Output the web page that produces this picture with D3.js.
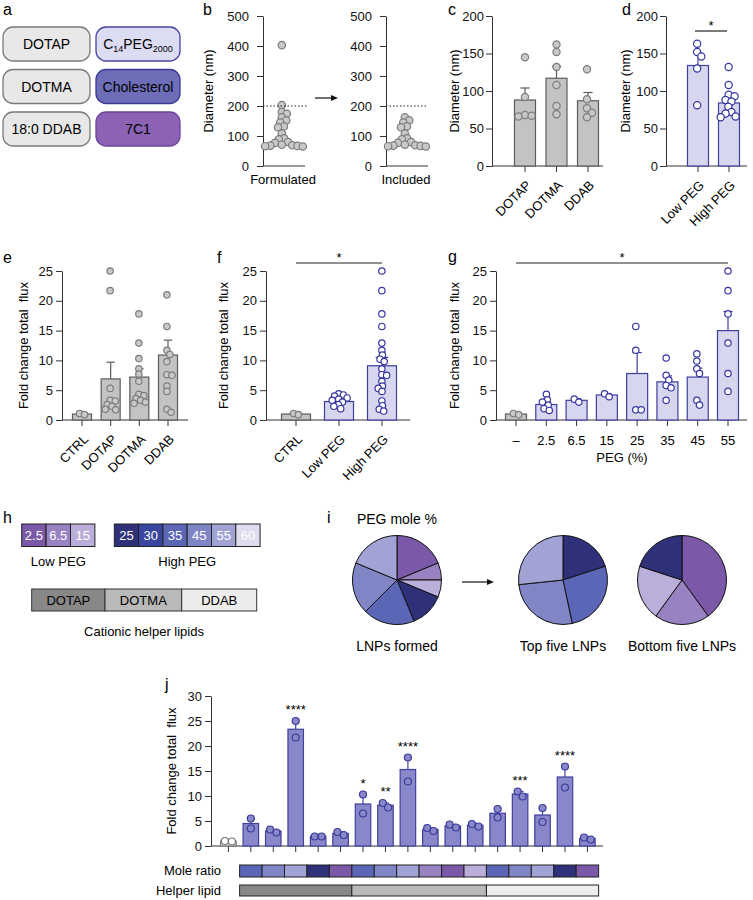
<!DOCTYPE html>
<html>
<head>
<meta charset="utf-8">
<script src="https://cdn.jsdelivr.net/npm/d3@7"></script>
<style>
body { margin: 0; background: #fff; }
svg { font-family: "Liberation Sans", Arial, Helvetica, sans-serif; }
</style>
</head>
<body>
<svg id="fig" width="753" height="900"></svg>
<script>
// ---------- data ----------
// a
var helperNames = ["DOTAP", "DOTMA", "18:0 DDAB"];
var otherNames = ["C14PEG2000", "Cholesterol", "7C1"];

// c (diameter, nm)
var cCats = ["DOTAP", "DOTMA", "DDAB"];
var cMeans = [88, 117, 87];
var cErrTop = [104, 133, 98];
var cPoints = [[145, 92, 66, 67, 68], [162, 152, 132, 108, 80, 69], [129, 89, 77, 71, 65]];
// b
var bExcluded = [403, 203, 180, 174];
var bIncluded = [].concat(cPoints[0], cPoints[1], cPoints[2]);
var bFormulated = bExcluded.concat(bIncluded);

// d
var dCats = ["Low PEG", "High PEG"];
var dMeans = [134, 84];
var dErrTop = [150, 90];
var dPoints = [[163, 152, 146, 130, 81], [132, 108, 95, 93, 88, 86, 79, 72, 70, 66, 65]];

// e (fold change total flux)
var eCats = ["CTRL", "DOTAP", "DOTMA", "DDAB"];
var eMeans = [1.0, 6.9, 7.2, 10.9];
var eErrTop = [1.1, 9.7, 8.6, 13.4];
var ePoints = [[0.9, 1.1], [25, 21.7, 5.3, 3.3, 3.2, 2.6, 2.3, 1.8, 1.7],
  [17.8, 12.9, 10.3, 8.6, 7.7, 6.5, 4.3, 4.1, 3.6, 3.3, 3.0, 2.8],
  [21, 15.7, 11.7, 11.0, 9.8, 7.6, 7.5, 5.7, 4.8, 1.8, 1.3]];

// f
var fCats = ["CTRL", "Low PEG", "High PEG"];
var fMeans = [1.0, 3.1, 9.1];
var fErrTop = [1.1, 3.4, 10.5];
var fPoints = [[0.9, 1.1], [4.4, 4.2, 4.0, 3.7, 3.5, 3.3, 3.0, 2.6, 2.3, 1.9],
  [25, 21.7, 17.8, 15.7, 12.9, 11.7, 10.9, 10.2, 9.8, 8.6, 7.6, 7.5, 6.5, 5.7, 5.3, 4.8, 3.2, 2.4, 1.8, 1.5]];

// g
var gCats = ["–", "2.5", "6.5", "15", "25", "35", "45", "55"];
var gMeans = [1.0, 2.6, 3.3, 4.2, 7.8, 6.4, 7.2, 15.0];
var gErrTop = [1.1, 3.1, 3.6, 4.45, 11.3, 7.4, 8.7, 18.2];
var gPoints = [[0.9, 1.1], [4.3, 3.4, 3.0, 2.5, 1.9, 1.6], [3.0, 3.5], [3.9, 4.4], [15.7, 11.7, 1.7, 1.7],
  [10.4, 7.5, 6.7, 5.8, 5.4, 3.3], [11.1, 9.9, 8.6, 7.8, 3.3, 2.5], [25, 21.7, 17.8, 12.9, 7.8, 4.8]];

// h / i
var lowPeg = [2.5, 6.5, 15];
var highPeg = [25, 30, 35, 45, 55, 60];
var pegColors = { 2.5: "#7b59a8", 6.5: "#9882c2", 15: "#bcaedb", 25: "#2e3079", 30: "#3b46a0",
  35: "#5b66b6", 45: "#7f85c5", 55: "#a1a3d4", 60: "#dddded" };
var helperCats = ["DOTAP", "DOTMA", "DDAB"];
var helperColors = ["#888888", "#b9b9b9", "#ececec"];
var topFivePeg = [25, 35, 45, 55];
var topFiveCounts = [3, 4, 4, 4];
var bottomFivePeg = [2.5, 6.5, 15, 25];
var bottomFiveCounts = [2, 1, 1, 1];

// j
var jPoints = [[0.9, 1.0], [5.5, 3.5], [3.3, 2.7], [25, 21.7], [1.9, 1.9], [2.2, 2.8], [10.3, 6.5], [7.7, 8.6],
  [17.7, 12.9], [3.0, 3.6], [3.7, 4.3], [3.9, 4.4], [7.4, 5.7], [10.9, 9.9], [7.6, 4.8], [15.9, 11.7], [1.3, 1.7]];
var jStars = { 3: "****", 6: "*", 7: "**", 8: "****", 13: "***", 15: "****" };
var moleRatio = [35, 45, 55, 25, 2.5, 35, 45, 55, 6.5, 2.5, 15, 35, 45, 55, 25, 2.5];
var helperOfCell = ["DOTAP", "DOTAP", "DOTAP", "DOTAP", "DOTAP", "DOTMA", "DOTMA", "DOTMA", "DOTMA", "DOTMA", "DOTMA",
  "DDAB", "DDAB", "DDAB", "DDAB", "DDAB"];

// ---------- drawing ----------
var FS = 13;
var svg = d3.select("#fig");
svg.append("rect").attr("width", 753).attr("height", 900).attr("fill", "#fff");

var grayStyle = { bar: "#c3c3c3", barStroke: "#5c5c5c", pt: "#c9c9c9", ptStroke: "#7c7c7c" };
var lightBlue = { bar: "#d6d6ef", barStroke: "#3e3e9e", pt: "#ffffff", ptStroke: "#3535a0" };
var midBlue = { bar: "#8787ca", barStroke: "#40409e", pt: "#8787ca", ptStroke: "#3a3a98" };
var ctrlJ = { bar: "#e6e6e6", barStroke: "#777", pt: "#ffffff", ptStroke: "#777" };

function letter(t, x, y) {
  svg.append("text").attr("x", x).attr("y", y).attr("font-size", 16).text(t);
}

function styleAxis(sel) {
  sel.attr("font-size", FS).attr("font-family", null);
  sel.selectAll("path,line").attr("stroke", "#333");
  sel.selectAll("text").attr("fill", "#111");
}

// simple beeswarm, returns x offsets (pack < 1 lets the dots overlap a bit)
function swarm(vals, y, r, pack) {
  var pts = vals.map(function(v) { return { v: v, y: y(v) }; }).sort(function(a, b) { return a.y - b.y; });
  var placed = [];
  var d = 2 * r * pack;
  pts.forEach(function(p) {
    var cands = [0];
    placed.forEach(function(q) {
      var dy = p.y - q.y;
      if (Math.abs(dy) < d) {
        var dx = Math.sqrt(d * d - dy * dy);
        cands.push(q.dx + dx, q.dx - dx);
      }
    });
    cands.sort(function(a, b) { return Math.abs(a) - Math.abs(b); });
    for (var k = 0; k < cands.length; k++) {
      var c = cands[k];
      var ok = placed.every(function(q) { return (c - q.dx) * (c - q.dx) + (p.y - q.y) * (p.y - q.y) >= d * d - 0.01; });
      if (ok) { p.dx = c; break; }
    }
    placed.push(p);
  });
  var m = d3.mean(placed, function(p) { return p.dx; });
  placed.forEach(function(p) { p.dx -= m; });
  return placed;
}

function yTitle(t, x, y0, y1) {
  svg.append("text").attr("transform", "translate(" + x + "," + ((y0 + y1) / 2) + ") rotate(-90)")
    .attr("text-anchor", "middle").attr("font-size", FS).style("white-space", "pre").text(t);
}

function scatterBar(o) {
  var g = svg.append("g");
  var x = d3.scalePoint().domain(o.cats).range(o.xr);
  var y = d3.scaleLinear().domain([0, o.ymax]).range([o.base, o.top]);
  var ax = g.append("g").attr("transform", "translate(" + o.ax + ",0)")
    .call(d3.axisLeft(y).tickValues(o.ticks).tickSize(6).tickSizeOuter(0).tickPadding(o.pad || 3));
  styleAxis(ax);
  g.append("line").attr("x1", o.ax).attr("x2", o.xend).attr("y1", o.base).attr("y2", o.base).attr("stroke", "#333");
  if (o.xticks !== false) {
    g.selectAll(".xt").data(o.cats).join("line")
      .attr("x1", function(d) { return x(d); }).attr("x2", function(d) { return x(d); })
      .attr("y1", o.base).attr("y2", o.base + 6).attr("stroke", "#333");
  }
  o.cats.forEach(function(c, i) {
    var st = o.style(i);
    var cx = x(c);
    if (o.means) {
      g.append("line").attr("x1", cx).attr("x2", cx).attr("y1", y(o.means[i])).attr("y2", y(o.errTop[i]))
        .attr("stroke", st.barStroke).attr("stroke-width", 1.2);
      g.append("line").attr("x1", cx - o.bw * 0.22).attr("x2", cx + o.bw * 0.22)
        .attr("y1", y(o.errTop[i])).attr("y2", y(o.errTop[i])).attr("stroke", st.barStroke).attr("stroke-width", 1.2);
      g.append("rect").attr("x", cx - o.bw / 2).attr("y", y(o.means[i])).attr("width", o.bw)
        .attr("height", o.base - y(o.means[i])).attr("fill", st.bar).attr("stroke", st.barStroke).attr("stroke-width", 1.2);
    }
    var sw = swarm(o.points[i], y, o.r, o.pack || 1);
    g.selectAll(null).data(sw).join("circle")
      .attr("cx", function(p) { return cx + p.dx; }).attr("cy", function(p) { return p.y; }).attr("r", o.r)
      .attr("fill", st.pt).attr("stroke", st.ptStroke).attr("stroke-width", 1.2);
  });
  if (o.labels === "rot") {
    o.cats.forEach(function(c) {
      g.append("text").attr("transform", "translate(" + (x(c) + 7) + "," + (o.base + 20) + ") rotate(-45)")
        .attr("text-anchor", "end").attr("font-size", FS).text(c);
    });
  } else if (o.labels === "flat") {
    o.cats.forEach(function(c) {
      g.append("text").attr("x", x(c)).attr("y", o.base + 25).attr("text-anchor", "middle").attr("font-size", FS).text(c);
    });
  } else if (o.labels) {
    g.append("text").attr("x", x(o.cats[0])).attr("y", o.base + 18).attr("text-anchor", "middle")
      .attr("font-size", FS).text(o.labels);
  }
  if (o.title) yTitle(o.title, o.titleX, o.base, o.top);
  return { x: x, y: y, g: g };
}

function sigLine(x1, x2, yy) {
  svg.append("line").attr("x1", x1).attr("x2", x2).attr("y1", yy).attr("y2", yy).attr("stroke", "#222").attr("stroke-width", 1.2);
  svg.append("text").attr("x", (x1 + x2) / 2).attr("y", yy - 1).attr("text-anchor", "middle").attr("font-size", FS).text("*");
}

function arrow(x1, x2, yy) {
  svg.append("line").attr("x1", x1).attr("x2", x2 - 5).attr("y1", yy).attr("y2", yy).attr("stroke", "#111").attr("stroke-width", 1.2);
  svg.append("path").attr("d", "M" + x2 + "," + yy + "L" + (x2 - 7) + "," + (yy - 3) + "L" + (x2 - 7) + "," + (yy + 3) + "Z").attr("fill", "#111");
}

// ---------- panel a ----------
letter("a", 3, 15);
var rowY = d3.scalePoint().domain(d3.range(3)).range([27, 112]);
var rightStyles = [
  { fill: "#dcdcf2", stroke: "#4444a2" },
  { fill: "#6d6db8", stroke: "#3a3a92" },
  { fill: "#8c62b4", stroke: "#6a449a" }];
helperNames.forEach(function(n, i) {
  svg.append("rect").attr("x", 3).attr("y", rowY(i)).attr("width", 87).attr("height", 34).attr("rx", 10)
    .attr("fill", "#e8e8e8").attr("stroke", "#7a7a7a").attr("stroke-width", 1.3);
  svg.append("text").attr("x", 46.5).attr("y", rowY(i) + 22).attr("text-anchor", "middle").attr("font-size", 14).text(n);
});
otherNames.forEach(function(n, i) {
  svg.append("rect").attr("x", 96).attr("y", rowY(i)).attr("width", 84).attr("height", 34).attr("rx", 10)
    .attr("fill", rightStyles[i].fill).attr("stroke", rightStyles[i].stroke).attr("stroke-width", 1.3);
  var t = svg.append("text").attr("x", 138).attr("y", rowY(i) + 22).attr("text-anchor", "middle").attr("font-size", 14);
  if (n === "C14PEG2000") {
    t.append("tspan").text("C");
    t.append("tspan").attr("font-size", 9).attr("dy", 3).text("14");
    t.append("tspan").attr("dy", -3).text("PEG");
    t.append("tspan").attr("font-size", 9).attr("dy", 3).text("2000");
  } else {
    t.text(n);
  }
});

// ---------- panel b ----------
letter("b", 203, 15);
var bTicks = [0, 100, 200, 300, 400, 500];
var b1 = scatterBar({ cats: ["Formulated"], xr: [283, 283], ymax: 500, base: 166, top: 16, ax: 263, xend: 305,
  ticks: bTicks, pad: 8, style: function() { return grayStyle; }, points: [bFormulated], r: 3.7, pack: 0.72,
  xticks: false, labels: "Formulated", title: "Diameter (nm)", titleX: 213 });
var b2 = scatterBar({ cats: ["Included"], xr: [406, 406], ymax: 500, base: 166, top: 16, ax: 386, xend: 428,
  ticks: bTicks, pad: 8, style: function() { return grayStyle; }, points: [bIncluded], r: 3.7, pack: 0.72,
  xticks: false, labels: "Included" });
[[263, 307, b1], [386, 428, b2]].forEach(function(s) {
  svg.append("line").attr("x1", s[0]).attr("x2", s[1]).attr("y1", s[2].y(200)).attr("y2", s[2].y(200))
    .attr("stroke", "#222").attr("stroke-dasharray", "1.5,2").attr("stroke-width", 1.2);
});
arrow(315, 338, 98);

// ---------- panel c ----------
letter("c", 448, 15);
scatterBar({ cats: cCats, xr: [525, 588], ymax: 200, base: 166, top: 16, ax: 492, xend: 603, bw: 21,
  ticks: [0, 50, 100, 150, 200], pad: 2, style: function() { return grayStyle; }, means: cMeans, errTop: cErrTop,
  points: cPoints, r: 3.6, pack: 0.93, labels: "rot", title: "Diameter (nm)", titleX: 459 });

// ---------- panel d ----------
letter("d", 622, 15);
var pd = scatterBar({ cats: dCats, xr: [698, 729], ymax: 200, base: 166, top: 16, ax: 666, xend: 747, bw: 21,
  ticks: [0, 50, 100, 150, 200], pad: 2, style: function() { return lightBlue; }, means: dMeans, errTop: dErrTop,
  points: dPoints, r: 3.6, pack: 0.85, labels: "rot", title: "Diameter (nm)", titleX: 630 });
sigLine(pd.x("Low PEG") - 3, pd.x("High PEG") - 2, 31);

// ---------- panel e ----------
letter("e", 3, 263);
var fluxTicks = [0, 5, 10, 15, 20, 25];
scatterBar({ cats: eCats, xr: [82, 168], ymax: 25, base: 420, top: 271, ax: 62, xend: 188, bw: 19,
  ticks: fluxTicks, style: function() { return grayStyle; }, means: eMeans, errTop: eErrTop,
  points: ePoints, r: 3.2, pack: 0.8, labels: "rot", title: "Fold change total  flux", titleX: 28 });

// ---------- panel f ----------
letter("f", 217, 263);
var pf = scatterBar({ cats: fCats, xr: [296, 382], ymax: 25, base: 420, top: 271, ax: 266, xend: 410, bw: 29,
  ticks: fluxTicks, style: function(i) { return i === 0 ? grayStyle : lightBlue; }, means: fMeans, errTop: fErrTop,
  points: fPoints, r: 3.2, pack: 0.75, labels: "rot", title: "Fold change total  flux", titleX: 228 });
sigLine(pf.x("CTRL"), pf.x("High PEG"), 263);

// ---------- panel g ----------
letter("g", 448, 262);
var pg = scatterBar({ cats: gCats, xr: [516, 728], ymax: 25, base: 420, top: 271, ax: 496, xend: 747, bw: 21,
  ticks: fluxTicks, style: function(i) { return i === 0 ? grayStyle : lightBlue; }, means: gMeans, errTop: gErrTop,
  points: gPoints, r: 3.2, pack: 0.85, labels: "flat", title: "Fold change total  flux", titleX: 459 });
sigLine(pg.x("–"), pg.x("55"), 263);
svg.append("text").attr("x", (pg.x("–") + pg.x("55")) / 2).attr("y", 462).attr("text-anchor", "middle")
  .attr("font-size", FS).text("PEG (%)");

// ---------- panel h ----------
letter("h", 3, 523);
function pegStrip(levels, x0, cw) {
  levels.forEach(function(p, i) {
    svg.append("rect").attr("x", x0 + i * cw).attr("y", 524).attr("width", cw).attr("height", 22.5)
      .attr("fill", pegColors[p]).attr("stroke", "#222").attr("stroke-width", 1);
    svg.append("text").attr("x", x0 + i * cw + cw / 2).attr("y", 540).attr("text-anchor", "middle")
      .attr("font-size", FS).attr("fill", "#fff").text(p);
  });
}
pegStrip(lowPeg, 21.7, 24.4);
pegStrip(highPeg, 114.3, 24.3);
svg.append("text").attr("x", 21.7 + 1.5 * 24.4).attr("y", 566).attr("text-anchor", "middle").attr("font-size", FS).text("Low PEG");
svg.append("text").attr("x", 114.3 + 3 * 24.3).attr("y", 566).attr("text-anchor", "middle").attr("font-size", FS).text("High PEG");
var helperX = d3.scaleOrdinal().domain(helperCats).range([31.7, 105, 181.7]);
var helperW = [73.3, 76.7, 75];
helperCats.forEach(function(h, i) {
  svg.append("rect").attr("x", helperX(h)).attr("y", 589).attr("width", helperW[i]).attr("height", 22)
    .attr("fill", helperColors[i]).attr("stroke", "#333").attr("stroke-width", 1);
  svg.append("text").attr("x", helperX(h) + helperW[i] / 2).attr("y", 605).attr("text-anchor", "middle")
    .attr("font-size", FS).text(h);
});
svg.append("text").attr("x", 144).attr("y", 636).attr("text-anchor", "middle").attr("font-size", FS).text("Cationic helper lipids");

// ---------- panel i ----------
letter("i", 327, 523);
svg.append("text").attr("x", 397).attr("y", 524).attr("text-anchor", "middle").attr("font-size", 14).text("PEG mole %");
var formedCounts = d3.rollups(moleRatio, function(v) { return v.length; }, function(d) { return d; })
  .sort(function(a, b) { return a[0] - b[0]; });
var pie = d3.pie().sort(null).value(function(d) { return d[1]; });
var arc = d3.arc().innerRadius(0).outerRadius(44.5);
function drawPie(data, cx, cy, label) {
  var g = svg.append("g").attr("transform", "translate(" + cx + "," + cy + ")");
  g.selectAll("path").data(pie(data)).join("path").attr("d", arc)
    .attr("fill", function(d) { return pegColors[d.data[0]]; }).attr("stroke", "#111").attr("stroke-width", 1);
  svg.append("text").attr("x", cx).attr("y", 651).attr("text-anchor", "middle").attr("font-size", 14).text(label);
}
drawPie(formedCounts, 397, 580, "LNPs formed");
drawPie(d3.zip(topFivePeg, topFiveCounts), 563, 580, "Top five LNPs");
drawPie(d3.zip(bottomFivePeg, bottomFiveCounts), 682, 580, "Bottom five LNPs");
arrow(462, 494, 582);

// ---------- panel j ----------
letter("j", 165, 690);
var jIdx = d3.range(jPoints.length);
var jMeans = jPoints.map(function(p) { return d3.mean(p); });
var jErrTop = jPoints.map(function(p) { return d3.mean(p) + d3.deviation(p) / Math.sqrt(p.length); });
var pj = scatterBar({ cats: jIdx, xr: [228.4, 587.4], ymax: 30, base: 846, top: 696, ax: 211, xend: 603, bw: 15.5,
  ticks: [0, 5, 10, 15, 20, 25, 30], style: function(i) { return i === 0 ? ctrlJ : midBlue; },
  means: jMeans, errTop: jErrTop, points: jPoints, r: 3.5, title: "Fold change total  flux", titleX: 176 });
Object.keys(jStars).forEach(function(k) {
  var i = +k;
  svg.append("text").attr("x", pj.x(i)).attr("y", pj.y(d3.max(jPoints[i])) - 7).attr("text-anchor", "middle")
    .attr("font-size", FS).text(jStars[k]);
});
var step = pj.x.step();
moleRatio.forEach(function(p, i) {
  svg.append("rect").attr("x", pj.x(i + 1) - step / 2).attr("y", 865).attr("width", step).attr("height", 12)
    .attr("fill", pegColors[p]).attr("stroke", "#222").attr("stroke-width", 1);
});
helperCats.forEach(function(h, k) {
  var idx = helperOfCell.map(function(v, i) { return v === h ? i : -1; }).filter(function(i) { return i >= 0; });
  var x0 = pj.x(idx[0] + 1) - step / 2;
  var x1 = pj.x(idx[idx.length - 1] + 1) + step / 2;
  svg.append("rect").attr("x", x0).attr("y", 885).attr("width", x1 - x0).attr("height", 11)
    .attr("fill", helperColors[k]).attr("stroke", "#222").attr("stroke-width", 1);
});
svg.append("text").attr("x", 221).attr("y", 875).attr("text-anchor", "end").attr("font-size", FS).text("Mole ratio");
svg.append("text").attr("x", 221).attr("y", 895).attr("text-anchor", "end").attr("font-size", FS).text("Helper lipid");
</script>
</body>
</html>
